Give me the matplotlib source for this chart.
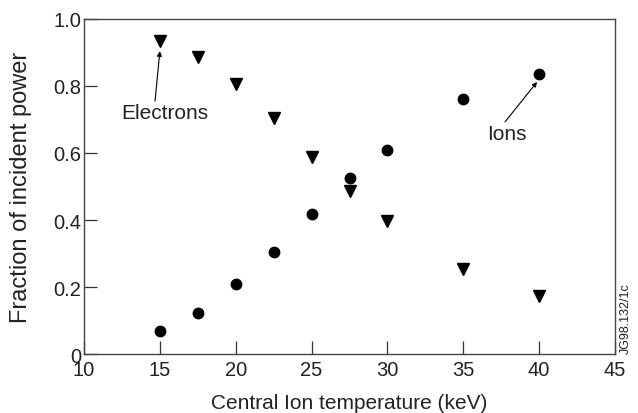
import numpy as np
import matplotlib
matplotlib.use("Agg")
import matplotlib.pyplot as plt

# values
temp = [15, 17.5, 20, 22.5, 25, 27.5, 30, 35, 40]
electrons = [0.934, 0.887, 0.806, 0.704, 0.588, 0.487, 0.397, 0.254, 0.173]
ions = [0.069, 0.122, 0.209, 0.304, 0.418, 0.525, 0.609, 0.761, 0.836]

xticks = [10, 15, 20, 25, 30, 35, 40, 45]
yticks = [0, 0.2, 0.4, 0.6, 0.8, 1.0]
yticklabels = ["0", "0.2", "0.4", "0.6", "0.8", "1.0"]

plt.rcParams["font.family"] = ["Liberation Sans", "DejaVu Sans"]
txt = "#222222"


def label_arrow(ax, text, text_xy, tail, tip):
    ax.text(*text_xy, text, fontsize=15, color=txt, ha="center", va="center")
    ax.annotate("", xy=tip, xytext=tail,
                arrowprops=dict(arrowstyle="-|>", color="black", lw=0.8,
                                mutation_scale=7, shrinkA=0, shrinkB=0))


def main():
    fig = plt.figure(figsize=(6.38, 4.14), dpi=100)
    ax = fig.add_axes([0.1317, 0.1425, 0.964 - 0.1317, 0.9517 - 0.1425])

    ax.plot(temp, electrons, "v", color="black", ms=8, ls="none")
    ax.plot(temp, ions, "o", color="black", ms=7.5, ls="none")

    ax.set_xlim(10, 45)
    ax.set_ylim(0, 1.0)
    ax.set_xticks(xticks)
    ax.set_yticks(yticks)
    ax.set_yticklabels(yticklabels)
    ax.tick_params(direction="in", length=9.5, width=0.9, color="#333333",
                   labelsize=14.5, labelcolor=txt)
    ax.tick_params(axis="x", pad=4.5)
    ax.tick_params(axis="y", pad=2)
    for s in ax.spines.values():
        s.set_color("#444444")
        s.set_linewidth(1.0)

    ax.set_xlabel("Central Ion temperature (keV)", fontsize=15, color=txt, labelpad=10)
    ax.set_ylabel("Fraction of incident power", fontsize=17, color=txt, labelpad=15)

    label_arrow(ax, "Electrons", (15.34, 0.72), (14.68, 0.755), (15.0, 0.904))
    label_arrow(ax, "Ions", (37.9, 0.657), (37.75, 0.693), (39.86, 0.812))

    fig.text(0.981, 0.145, "JG98.132/1c", rotation=90, fontsize=9,
             color=txt, ha="center", va="bottom")

    fig.savefig("out.png", dpi=100)


if __name__ == '__main__':
    main()
